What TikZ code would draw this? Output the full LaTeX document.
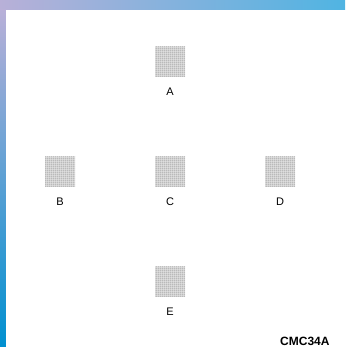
\documentclass[tikz,border=0pt]{standalone}
\usepackage{fontspec}
\setmainfont{Liberation Sans}
\usetikzlibrary{positioning,patterns.meta}
\definecolor{bgtopleft}{RGB}{184,176,216}
\definecolor{bgtopright}{RGB}{80,180,226}
\definecolor{bgbotleft}{RGB}{0,144,208}
\definecolor{padgray}{RGB}{160,160,160}
\tikzdeclarepattern{name=finegrid, type=uncolored,
  bounding box={(0,0) and (1.8pt,1.8pt)}, tile size={(1.8pt,1.8pt)},
  code={\draw[line width=0.45pt] (0,0.9pt) -- (1.8pt,0.9pt) (0.9pt,0) -- (0.9pt,1.8pt);}}
\begin{document}
\begin{tikzpicture}[x=1pt,y=1pt,
  pad/.style={minimum size=30pt,inner sep=0pt,preaction={fill=gray!15},
    pattern=finegrid,pattern color=padgray},
  padlabel/.style={below=10.5pt of #1,inner sep=0pt,font=\fontsize{11}{13}\selectfont}]
\clip (0,0) rectangle (345,347);
% background
\shade[left color=bgtopleft,right color=bgtopright] (0,337) rectangle (345,347);
\shade[top color=bgtopleft,bottom color=bgbotleft] (0,0) rectangle (6,337);
\fill[white] (6,0) rectangle (345,337);
% pads
\node[pad] (A) at (170,285) {};
\node[pad] (B) at (60,175) {};
\node[pad] (C) at (170,175) {};
\node[pad] (D) at (280,175) {};
\node[pad] (E) at (170,65) {};
\node[padlabel=A] (labA) {A};
\node[padlabel=B] (labB) {B};
\node[padlabel=C] (labC) {C};
\node[padlabel=D] (labD) {D};
\node[padlabel=E] (labE) {E};
\node[anchor=base west,inner sep=0pt,font=\bfseries\fontsize{12}{14}\selectfont] (code) at (280,1.2) {CMC34A};
\end{tikzpicture}
\end{document}
